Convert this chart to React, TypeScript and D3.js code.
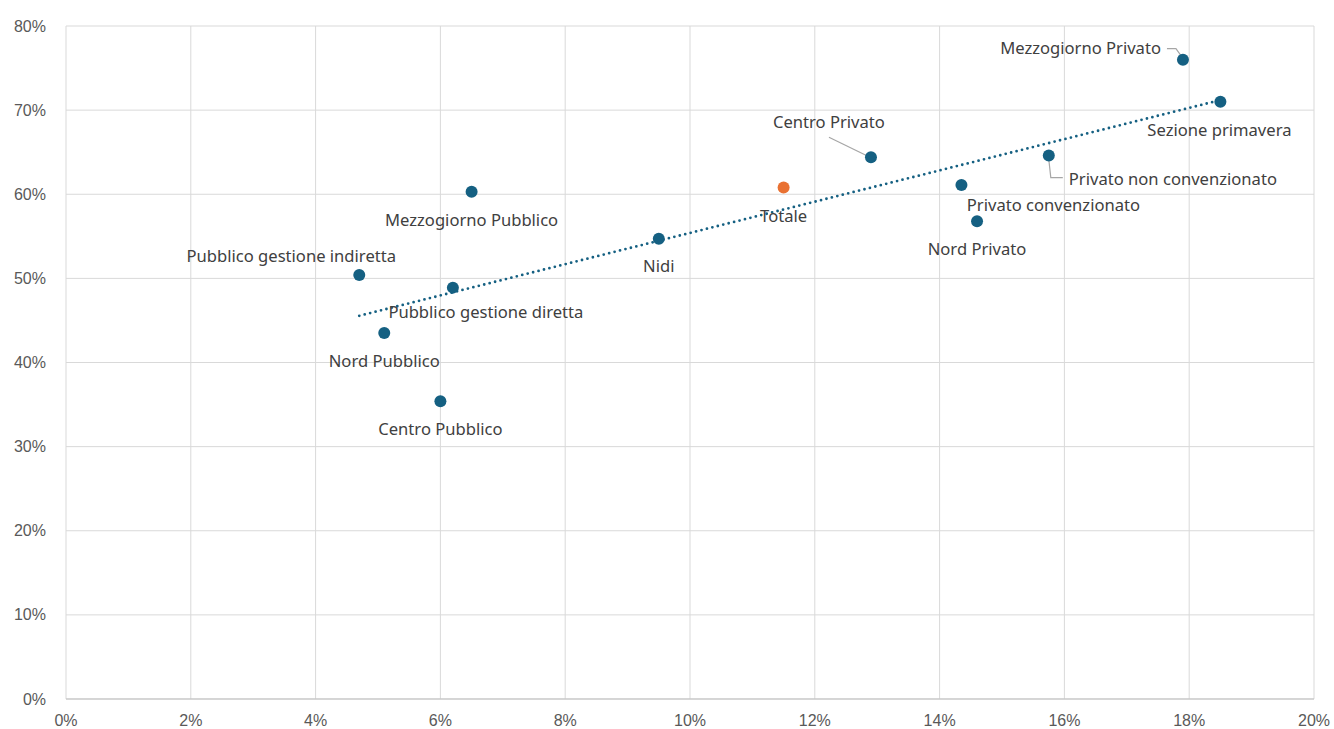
import React from "react";
import * as d3 from "d3";

const labels = [
  "Mezzogiorno Privato",
  "Sezione primavera",
  "Centro Privato",
  "Privato non convenzionato",
  "Privato convenzionato",
  "Nord Privato",
  "Nidi",
  "Mezzogiorno Pubblico",
  "Pubblico gestione indiretta",
  "Pubblico gestione diretta",
  "Nord Pubblico",
  "Centro Pubblico",
];
const xValues = [0.179, 0.185, 0.129, 0.1575, 0.1435, 0.146, 0.095, 0.065, 0.047, 0.062, 0.051, 0.06];
const yValues = [0.76, 0.71, 0.644, 0.646, 0.611, 0.568, 0.547, 0.603, 0.504, 0.489, 0.435, 0.354];

const totalLabel = "Totale";
const totalX = 0.115;
const totalY = 0.608;

const xTicks = [0, 0.02, 0.04, 0.06, 0.08, 0.1, 0.12, 0.14, 0.16, 0.18, 0.2];
const yTicks = [0, 0.1, 0.2, 0.3, 0.4, 0.5, 0.6, 0.7, 0.8];

// label layout: offset of text from point, anchor
const labelLayout: { dx: number; dy: number; anchor: string }[] = [
  { dx: -22, dy: -12, anchor: "end" },
  { dx: -1, dy: 28, anchor: "middle" },
  { dx: -42, dy: -36, anchor: "middle" },
  { dx: 20, dy: 23, anchor: "start" },
  { dx: 92, dy: 20, anchor: "middle" },
  { dx: 0, dy: 27, anchor: "middle" },
  { dx: 0, dy: 27, anchor: "middle" },
  { dx: 0, dy: 28, anchor: "middle" },
  { dx: -68, dy: -20, anchor: "middle" },
  { dx: 33, dy: 24, anchor: "middle" },
  { dx: 0, dy: 27, anchor: "middle" },
  { dx: 0, dy: 27, anchor: "middle" },
];
const totalLayout = { dx: 0, dy: 28 };

const W = 1334;
const H = 729;
const left = 66;
const right = 1314;
const top = 26;
const bottom = 699;

const BLUE = "#156082";
const ORANGE = "#E97132";
const TEXT = "#404040";
const AXIS = "#595959";

export default function App() {
  const x = d3.scaleLinear().domain([0, 0.2]).range([left, right]);
  const y = d3.scaleLinear().domain([0, 0.8]).range([bottom, top]);
  const pct = d3.format(".0%");

  // linear regression trendline
  const n = xValues.length;
  const mx = d3.mean(xValues) as number;
  const my = d3.mean(yValues) as number;
  let sxy = 0;
  let sxx = 0;
  for (let i = 0; i < n; i++) {
    sxy += (xValues[i] - mx) * (yValues[i] - my);
    sxx += (xValues[i] - mx) ** 2;
  }
  const slope = sxy / sxx;
  const intercept = my - slope * mx;
  const [x0, x1] = d3.extent(xValues) as [number, number];
  const trend = d3.line<number>()
    .x((d) => x(d))
    .y((d) => y(intercept + slope * d))([x0, x1]);

  const labelFont = { fontFamily: "'Noto Sans', sans-serif", fontSize: 16.6, fill: TEXT };
  const axisFont = { fontFamily: "'Liberation Sans', Arial, sans-serif", fontSize: 16, fill: AXIS };

  // leader lines
  const p0 = { x: x(xValues[0]), y: y(yValues[0]) };
  const p2 = { x: x(xValues[2]), y: y(yValues[2]) };
  const p3 = { x: x(xValues[3]), y: y(yValues[3]) };

  return (
    <svg width={W} height={H} style={{ position: "absolute", left: 0, top: 0, background: "#fff" }}>
      {/* gridlines */}
      {yTicks.map((t) => (
        <line key={"gy" + t} x1={left} x2={right} y1={y(t)} y2={y(t)} stroke="#d9d9d9" strokeWidth={1} />
      ))}
      {xTicks.map((t) => (
        <line key={"gx" + t} x1={x(t)} x2={x(t)} y1={top} y2={bottom} stroke="#d9d9d9" strokeWidth={1} />
      ))}
      <line x1={left} x2={right} y1={bottom} y2={bottom} stroke="#bfbfbf" strokeWidth={1} />

      {/* axis labels */}
      {yTicks.map((t) => (
        <text key={"ly" + t} x={46} y={y(t)} textAnchor="end" dominantBaseline="central" style={axisFont}>
          {pct(t)}
        </text>
      ))}
      {xTicks.map((t) => (
        <text key={"lx" + t} x={x(t)} y={720} textAnchor="middle" dominantBaseline="central" style={axisFont}>
          {pct(t)}
        </text>
      ))}

      {/* trendline */}
      <path d={trend || ""} fill="none" stroke={BLUE} strokeWidth={2.8} strokeDasharray="0 5.6" strokeLinecap="round" />

      {/* leader lines */}
      <polyline points={`${p0.x - 16},${p0.y - 11} ${p0.x - 7},${p0.y - 11} ${p0.x - 2},${p0.y - 4}`}
        fill="none" stroke="#a6a6a6" strokeWidth={1.2} />
      <polyline points={`${p2.x - 42},${p2.y - 20} ${p2.x - 3},${p2.y - 1}`}
        fill="none" stroke="#a6a6a6" strokeWidth={1.2} />
      <polyline points={`${p3.x},${p3.y + 4} ${p3.x + 2},${p3.y + 22} ${p3.x + 14},${p3.y + 22}`}
        fill="none" stroke="#a6a6a6" strokeWidth={1.2} />

      {/* points */}
      {xValues.map((v, i) => (
        <circle key={"p" + i} cx={x(v)} cy={y(yValues[i])} r={6} fill={BLUE} />
      ))}
      <circle cx={x(totalX)} cy={y(totalY)} r={6} fill={ORANGE} />

      {/* data labels */}
      {labels.map((l, i) => (
        <text key={"t" + i} x={x(xValues[i]) + labelLayout[i].dx} y={y(yValues[i]) + labelLayout[i].dy}
          textAnchor={labelLayout[i].anchor} dominantBaseline="central" style={labelFont}>
          {l}
        </text>
      ))}
      <text x={x(totalX) + totalLayout.dx} y={y(totalY) + totalLayout.dy} textAnchor="middle"
        dominantBaseline="central" style={labelFont}>
        {totalLabel}
      </text>
    </svg>
  );
}
